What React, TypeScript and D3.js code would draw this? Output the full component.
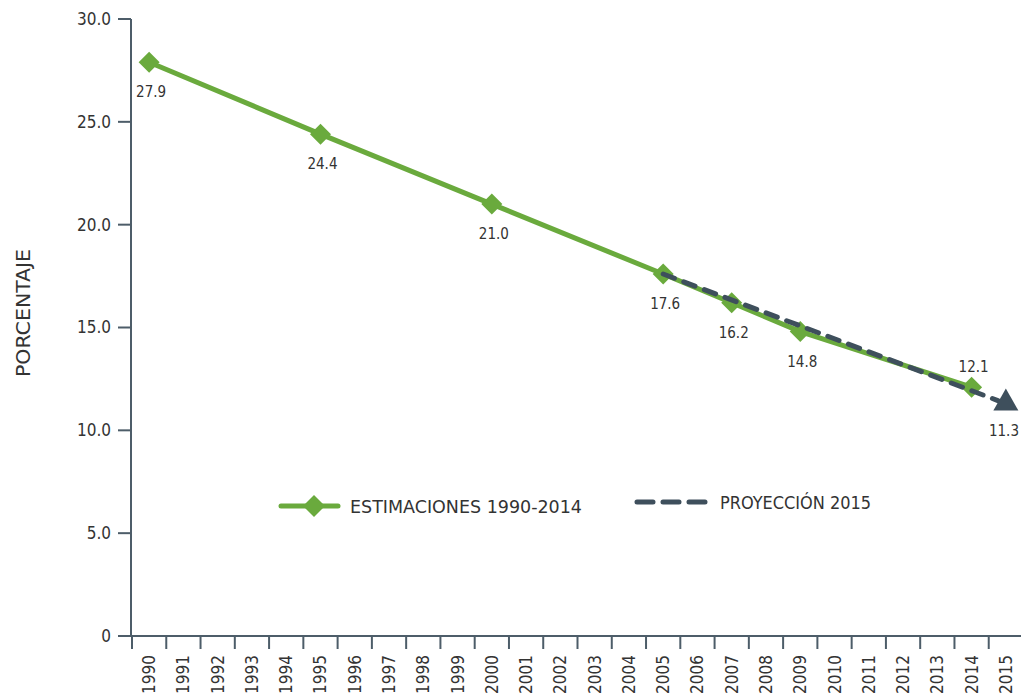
import React from "react";
import * as d3 from "d3";

const years: string[] = d3.range(1990, 2016).map(String);
const estYears: string[] = ["1990", "1995", "2000", "2005", "2007", "2009", "2014"];
const estValues: number[] = [27.9, 24.4, 21.0, 17.6, 16.2, 14.8, 12.1];
const projYears: string[] = ["2005", "2015"];
const projValues: number[] = [17.6, 11.3];
const yTicks: number[] = [0, 5, 10, 15, 20, 25, 30];
const legendLabels: string[] = ["ESTIMACIONES 1990-2014", "PROYECCIÓN 2015"];

const W = 1021;
const H = 696;
const GREEN = "#6aaa3d";
const DARK = "#3e4f5c";
const AXIS = "#4d5d69";
const TEXT = "#333";
const FONT = "'DejaVu Sans Condensed', 'Roboto', sans-serif";

export default function App() {
  const x = d3.scaleBand<string>().domain(years).range([132, 1023]).padding(0);
  const y = d3.scaleLinear().domain([0, 30]).range([636, 19]);
  const cx = (yr: string) => (x(yr) as number) + x.bandwidth() / 2;

  const estPts: [number, number][] = estYears.map((yr, i) => [cx(yr), y(estValues[i])]);
  const projPts: [number, number][] = projYears.map((yr, i) => [cx(yr), y(projValues[i])]);
  const line = d3.line();

  const [p0, p1] = projPts;
  const lineEnd: [number, number] = [p1[0] - 8, p1[1] - 3];
  const triPts = [
    [p1[0], p1[1] - 15],
    [p1[0] + 12.5, p1[1] + 7],
    [p1[0] - 12.5, p1[1] + 7],
  ]
    .map(([a, b]) => `${a},${b}`)
    .join(" ");

  const diamond = (px: number, py: number, s = 10.5) =>
    `${px},${py - s} ${px + s},${py} ${px},${py + s} ${px - s},${py}`;

  const labelOffsets: Record<string, number> = {
    "2014": -20,
  };

  return (
    <svg width={W} height={H} style={{ position: "absolute", left: 0, top: 0, background: "#fff" }} fontFamily={FONT}>
      {/* y axis */}
      <line x1={131} x2={131} y1={y(30)} y2={y(0)} stroke={AXIS} strokeWidth={2} />
      {yTicks.map((t) => (
        <g key={t}>
          <line x1={118} x2={131} y1={y(t)} y2={y(t)} stroke={AXIS} strokeWidth={2} />
          <text x={111} y={y(t)} dy="0.35em" textAnchor="end" fontSize={17} fill={TEXT}>
            {t === 0 ? "0" : t.toFixed(1)}
          </text>
        </g>
      ))}
      <text
        transform={`translate(30,313) rotate(-90)`}
        textAnchor="middle"
        fontSize={20}
        textLength={128}
        lengthAdjust="spacingAndGlyphs"
        fill={TEXT}
      >
        PORCENTAJE
      </text>

      {/* x axis */}
      <line x1={118} x2={1023} y1={y(0)} y2={y(0)} stroke={AXIS} strokeWidth={2} />
      {years.map((yr) => (
        <g key={yr}>
          <line x1={x(yr) as number} x2={x(yr) as number} y1={y(0)} y2={y(0) + 13} stroke={AXIS} strokeWidth={2} />
          <text
            transform={`translate(${cx(yr) + 6},${y(0) + 19}) rotate(-90)`}
            textAnchor="end"
            fontSize={17}
            fill={TEXT}
          >
            {yr}
          </text>
        </g>
      ))}

      {/* estimates */}
      <path d={line(estPts) as string} fill="none" stroke={GREEN} strokeWidth={5} />
      {estPts.map(([px, py], i) => (
        <polygon key={i} points={diamond(px, py)} fill={GREEN} />
      ))}

      {/* projection */}
      <path
        d={line([p0, lineEnd]) as string}
        fill="none"
        stroke={DARK}
        strokeWidth={5}
        strokeDasharray="12 10"
        strokeLinecap="round"
      />
      <polygon points={triPts} fill={DARK} />

      {/* labels */}
      {estPts.map(([px, py], i) => {
        const off = labelOffsets[estYears[i]] ?? 30;
        return (
          <text key={i} x={px + 2} y={py + off} dy="0.35em" textAnchor="middle" fontSize={15} fill={TEXT}>
            {estValues[i].toFixed(1)}
          </text>
        );
      })}
      <text x={1019} y={p1[1] + 27} dy="0.35em" textAnchor="end" fontSize={15} fill={TEXT}>
        {projValues[1].toFixed(1)}
      </text>

      {/* legend */}
      <line x1={281} x2={338} y1={506} y2={506} stroke={GREEN} strokeWidth={5} strokeLinecap="round" />
      <polygon points={diamond(314, 506, 11)} fill={GREEN} />
      <text x={350} y={507} dy="0.35em" fontSize={18} textLength={232} lengthAdjust="spacingAndGlyphs" fill={TEXT}>
        {legendLabels[0]}
      </text>
      <line
        x1={637}
        x2={705}
        y1={502}
        y2={502}
        stroke={DARK}
        strokeWidth={5}
        strokeDasharray="16 10"
        strokeLinecap="round"
      />
      <text x={720} y={503} dy="0.35em" fontSize={18} textLength={151} lengthAdjust="spacingAndGlyphs" fill={TEXT}>
        {legendLabels[1]}
      </text>
    </svg>
  );
}
